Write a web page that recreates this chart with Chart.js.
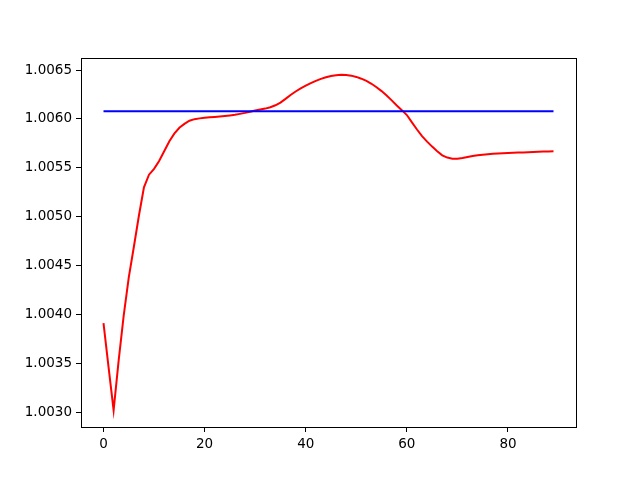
<!DOCTYPE html>
<html>
<head>
<meta charset="utf-8">
<script src="https://cdn.jsdelivr.net/npm/chart.js@4"></script>
<style>
    html, body { margin: 0; padding: 0; background: #fff; }
    canvas { display: block; }
</style>
</head>
<body>
<canvas id="chart" width="640" height="480"></canvas>
<script>
// values (index 0..89)
const redValues = [
    1.003910, 1.003460, 1.003020, 1.003530, 1.003990, 1.004380, 1.004690, 1.005010, 1.005300, 1.005430,
    1.005490, 1.005570, 1.005670, 1.005770, 1.005850, 1.005910, 1.005950, 1.005982, 1.005998, 1.006006,
    1.006012, 1.006017, 1.006021, 1.006025, 1.006030, 1.006036, 1.006043, 1.006052, 1.006062, 1.006074,
    1.006086, 1.006097, 1.006106, 1.006120, 1.006140, 1.006168, 1.006205, 1.006245, 1.006281, 1.006313,
    1.006340, 1.006366, 1.006390, 1.006410, 1.006427, 1.006440, 1.006448, 1.006452, 1.006450, 1.006443,
    1.006430, 1.006412, 1.006389, 1.006360, 1.006325, 1.006285, 1.006240, 1.006190, 1.006137, 1.006090,
    1.006040, 1.005965, 1.005892, 1.005825, 1.005768, 1.005717, 1.005670, 1.005628, 1.005605, 1.005594,
    1.005593, 1.005600, 1.005611, 1.005620, 1.005628, 1.005634, 1.005640, 1.005644, 1.005647, 1.005650,
    1.005652, 1.005654, 1.005656, 1.005658, 1.005660, 1.005662, 1.005664, 1.005666, 1.005668, 1.005669
];
const blueX = [0, 89];
const blueValues = [1.00608, 1.00608];
const xTicks = [0, 20, 40, 60, 80];
const yTicks = [1.0030, 1.0035, 1.0040, 1.0045, 1.0050, 1.0055, 1.0060, 1.0065];

// matplotlib-like 5% margins
const xLo = 0, xHi = redValues.length - 1;
const yLo = Math.min(...redValues, ...blueValues);
const yHi = Math.max(...redValues, ...blueValues);
const xPad = (xHi - xLo) * 0.05;
const yPad = (yHi - yLo) * 0.05;

const tickFont = { family: "'DejaVu Sans'", size: 13.5 };

const frame = {
    id: "frame",
    afterDraw(chart) {
        const a = chart.chartArea;
        const ctx = chart.ctx;
        ctx.save();
        ctx.strokeStyle = "#000";
        ctx.lineWidth = 1;
        ctx.strokeRect(Math.round(a.left) + 0.5, Math.round(a.top) + 0.5,
            Math.round(a.right - a.left), Math.round(a.bottom - a.top));
        ctx.restore();
    }
};

new Chart(document.getElementById("chart"), {
    type: "line",
    data: {
        datasets: [{
            data: blueX.map((x, i) => ({ x: x, y: blueValues[i] })),
            borderColor: "#0000ff",
            borderWidth: 2,
            pointRadius: 0,
            tension: 0,
            order: 0
        }, {
            data: redValues.map((v, i) => ({ x: i, y: v })),
            borderColor: "#ff0000",
            borderWidth: 2,
            pointRadius: 0,
            tension: 0,
            order: 1
        }]
    },
    options: {
        responsive: false,
        animation: false,
        layout: { padding: { left: 0, top: 58, right: 64, bottom: 0 } },
        plugins: { legend: { display: false }, tooltip: { enabled: false } },
        scales: {
            x: {
                type: "linear",
                min: xLo - xPad,
                max: xHi + xPad,
                afterBuildTicks: s => { s.ticks = xTicks.map(v => ({ value: v })); },
                afterFit: s => { s.height = 53; },
                grid: { display: true, drawOnChartArea: false, drawTicks: true, tickLength: 5, color: "#000" },
                border: { display: false },
                ticks: { color: "#000", font: tickFont, padding: 4, maxRotation: 0, callback: v => String(v) }
            },
            y: {
                type: "linear",
                min: yLo - yPad,
                max: yHi + yPad,
                afterBuildTicks: s => { s.ticks = yTicks.map(v => ({ value: v })); },
                afterFit: s => { s.width = 81; },
                grid: { display: true, drawOnChartArea: false, drawTicks: true, tickLength: 5, color: "#000" },
                border: { display: false },
                ticks: { color: "#000", font: tickFont, padding: 4, callback: v => v.toFixed(4) }
            }
        }
    },
    plugins: [frame]
});
</script>
</body>
</html>
